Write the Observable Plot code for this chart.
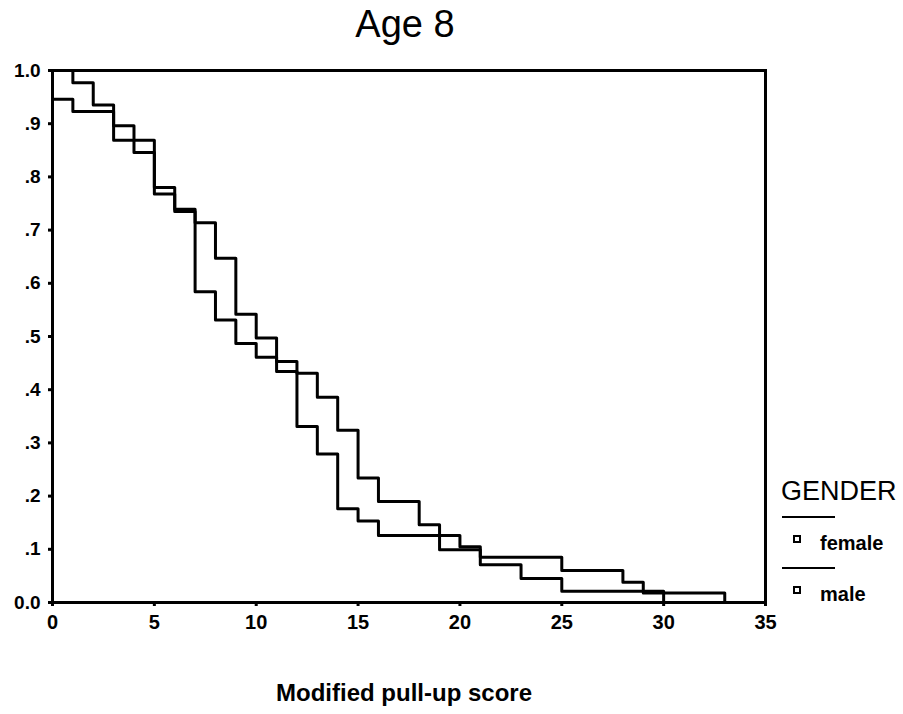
<!DOCTYPE html>
<html>
<head>
<meta charset="utf-8">
<script src="https://cdn.jsdelivr.net/npm/d3@7"></script>
<script src="https://cdn.jsdelivr.net/npm/@observablehq/plot@0.6"></script>
<style>
  body { margin: 0; background: #fff; }
  #wrap { position: relative; width: 903px; height: 714px; font-family: "Liberation Sans", Arial, sans-serif; }
  #wrap > svg { position: absolute; left: 0; top: 0; }
</style>
</head>
<body>
<div id="wrap"></div>
<script>
// ---- chart text ----
const chartTitle = "Age 8";
const xLabel = "Modified pull-up score";
const legendTitle = "GENDER";
const groups = ["female", "male"];

// ---- tick labels ----
const xTicks = [0, 5, 10, 15, 20, 25, 30, 35];
const yTicks = [0, 0.1, 0.2, 0.3, 0.4, 0.5, 0.6, 0.7, 0.8, 0.9, 1.0];
const yTickLabels = ["0.0", ".1", ".2", ".3", ".4", ".5", ".6", ".7", ".8", ".9", "1.0"];

// ---- series: step positions (score) and survival proportion ----
const femaleScore = [0, 1, 2, 3, 4, 5, 6, 7, 8, 9, 10, 11, 12, 13, 14, 15, 16, 18, 19, 21, 23, 25, 30];
const femaleSurv  = [1.0, 0.977, 0.935, 0.896, 0.869, 0.780, 0.739, 0.714, 0.647, 0.542, 0.497, 0.453, 0.431, 0.386, 0.324, 0.234, 0.190, 0.146, 0.099, 0.071, 0.045, 0.021, 0];
const maleScore = [0, 1, 3, 4, 5, 6, 7, 8, 9, 10, 11, 12, 13, 14, 15, 16, 20, 21, 25, 28, 29, 33];
const maleSurv  = [0.946, 0.923, 0.869, 0.846, 0.768, 0.735, 0.584, 0.531, 0.487, 0.461, 0.434, 0.331, 0.279, 0.176, 0.153, 0.126, 0.105, 0.085, 0.060, 0.038, 0.018, 0];

const rows = [
  ...femaleScore.map((s, i) => ({ gender: groups[0], score: s, surv: femaleSurv[i] })),
  ...maleScore.map((s, i) => ({ gender: groups[1], score: s, surv: maleSurv[i] }))
];

const W = 903, H = 714;
const font = "Liberation Sans, Arial, sans-serif";

const chart = Plot.plot({
  width: W,
  height: H,
  marginTop: 70,
  marginBottom: 112,
  marginLeft: 52,
  marginRight: 138,
  style: { fontFamily: font, background: "transparent", color: "#000" },
  x: { domain: [0, 35] },
  y: { domain: [0, 1] },
  marks: [
    Plot.frame({ stroke: "#000", strokeWidth: 3 }),
    Plot.axisY({
      ticks: yTicks,
      tickFormat: d => yTickLabels[Math.round(d * 10)],
      tickSize: 4, tickPadding: 8, strokeWidth: 3,
      fontSize: 19, fontWeight: "bold", label: null
    }),
    Plot.axisX({
      ticks: xTicks,
      tickFormat: d => String(d),
      tickSize: 4, tickPadding: 8, strokeWidth: 3,
      fontSize: 20, fontWeight: "bold", label: null
    }),
    Plot.line(rows, {
      x: "score", y: "surv", z: "gender",
      curve: "step-after", stroke: "#000", strokeWidth: 3
    })
  ]
});

const wrap = document.getElementById("wrap");
wrap.appendChild(chart);

// ---- title, axis label, legend (overlay) ----
const svg = d3.create("svg").attr("width", W).attr("height", H)
  .attr("font-family", font).style("pointer-events", "none");

svg.append("text").attr("x", 405).attr("y", 37).attr("text-anchor", "middle")
  .attr("font-size", 38).text(chartTitle);

svg.append("text").attr("x", 404).attr("y", 701).attr("text-anchor", "middle")
  .attr("font-size", 24).attr("font-weight", "bold").text(xLabel);

svg.append("text").attr("x", 781).attr("y", 500)
  .attr("font-size", 27).text(legendTitle);

const legendY = [517, 568];
groups.forEach((g, i) => {
  const y0 = legendY[i];
  svg.append("line").attr("x1", 782).attr("x2", 835).attr("y1", y0).attr("y2", y0)
    .attr("stroke", "#000").attr("stroke-width", 2);
  svg.append("rect").attr("x", 794).attr("y", y0 + 19).attr("width", 6).attr("height", 6)
    .attr("fill", "#fff").attr("stroke", "#000").attr("stroke-width", 2);
  svg.append("text").attr("x", 820).attr("y", y0 + 33)
    .attr("font-size", 20).attr("font-weight", "bold").text(g);
});

wrap.appendChild(svg.node());
</script>
</body>
</html>
